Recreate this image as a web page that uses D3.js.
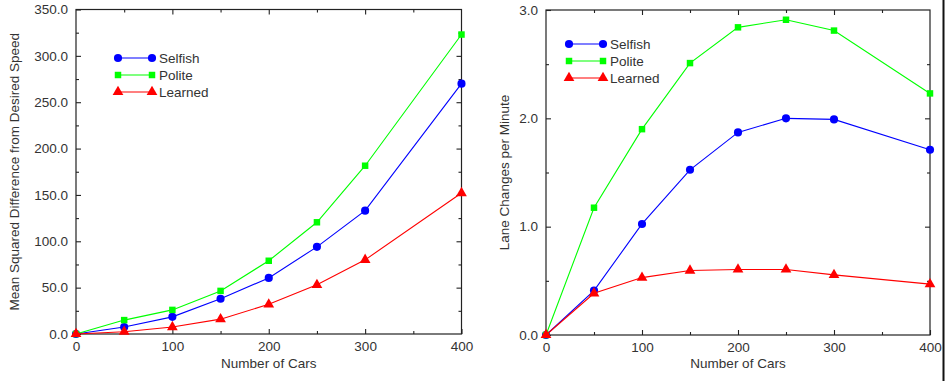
<!DOCTYPE html>
<html>
<head>
<meta charset="utf-8">
<script src="https://cdn.jsdelivr.net/npm/d3@7"></script>
<style>
  body { margin: 0; background: #fff; }
  svg text { font-family: "Liberation Sans", Arial, sans-serif; fill: #333; }
  .axis path { stroke: #222; stroke-width: 1.2; }
  .axis line { stroke: #222; stroke-width: 1.1; }
</style>
</head>
<body>
<svg id="chart" width="948" height="381"></svg>
<script>
// data
const cars = [0, 50, 100, 150, 200, 250, 300, 400];

const speedSelfish = [0, 7.5, 18.5, 38, 60.5, 94, 133, 270];
const speedPolite  = [0, 15, 26, 46.5, 79, 120.5, 181.5, 323];
const speedLearned = [0, 2.5, 7.5, 16, 32, 53, 80, 152];

const laneSelfish = [0, 0.41, 1.025, 1.525, 1.87, 2.0, 1.99, 1.71];
const lanePolite  = [0, 1.175, 1.9, 2.51, 2.84, 2.91, 2.81, 2.23];
const laneLearned = [0, 0.385, 0.53, 0.595, 0.605, 0.605, 0.555, 0.47];

const seriesNames = ['Selfish', 'Polite', 'Learned'];
const seriesColors = ['#0000ff', '#00ff00', '#ff0000'];
const seriesShapes = [d3.symbolCircle, d3.symbolSquare, d3.symbolTriangle];
const seriesSizes  = [52, 42, 50];

const xMajor = [0, 100, 200, 300, 400];
const xMinor = [50, 150, 250, 350];

const svg = d3.select('#chart');

function drawPanel(opts) {
  const g = svg.append('g');
  const x = d3.scaleLinear().domain([0, 400]).range([opts.left, opts.right]);
  const y = d3.scaleLinear().domain([0, opts.yMax]).range([opts.bottom, opts.top]);

  // frame
  g.append('rect')
    .attr('x', opts.left).attr('y', opts.top)
    .attr('width', opts.right - opts.left).attr('height', opts.bottom - opts.top)
    .attr('fill', 'none').attr('stroke', '#222').attr('stroke-width', 1.2);

  const addAxis = (axis, tx, ty) => {
    const a = g.append('g').attr('class', 'axis')
      .attr('transform', `translate(${tx},${ty})`)
      .call(axis);
    a.select('.domain').remove();
    a.selectAll('text').style('font-size', '13.5px').attr('fill', '#333');
    return a;
  };

  // bottom / top
  addAxis(d3.axisBottom(x).tickValues(xMajor).tickSize(-5).tickPadding(7)
    .tickFormat(d3.format('d')), 0, opts.bottom);
  addAxis(d3.axisBottom(x).tickValues(xMinor).tickSize(-3).tickFormat(''), 0, opts.bottom);
  addAxis(d3.axisTop(x).tickValues(xMajor.slice(1, -1)).tickSize(-5).tickFormat(''), 0, opts.top);
  addAxis(d3.axisTop(x).tickValues(xMinor).tickSize(-3).tickFormat(''), 0, opts.top);

  // left / right
  addAxis(d3.axisLeft(y).tickValues(opts.yMajor).tickSize(-5).tickPadding(8)
    .tickFormat(d3.format('.1f')), opts.left, 0);
  addAxis(d3.axisLeft(y).tickValues(opts.yMinor).tickSize(-3).tickFormat(''), opts.left, 0);
  addAxis(d3.axisRight(y).tickValues(opts.yMajor.slice(1, -1)).tickSize(-5).tickFormat(''), opts.right, 0);
  addAxis(d3.axisRight(y).tickValues(opts.yMinor).tickSize(-3).tickFormat(''), opts.right, 0);

  // lines + markers
  const line = d3.line().x(d => x(d[0])).y(d => y(d[1]));
  opts.series.forEach((vals, i) => {
    const pts = cars.map((c, j) => [c, vals[j]]);
    g.append('path')
      .attr('d', line(pts))
      .attr('fill', 'none')
      .attr('stroke', seriesColors[i])
      .attr('stroke-width', 1.1);
    g.selectAll(null)
      .data(pts)
      .enter().append('path')
        .attr('transform', d => `translate(${x(d[0])},${y(d[1])})`)
        .attr('d', d3.symbol(seriesShapes[i], seriesSizes[i]))
        .attr('fill', seriesColors[i]);
  });

  // legend
  seriesNames.forEach((name, i) => {
    const ly = opts.legY + i * 17;
    g.append('line')
      .attr('x1', opts.legX).attr('x2', opts.legX + 34)
      .attr('y1', ly).attr('y2', ly)
      .attr('stroke', seriesColors[i]).attr('stroke-width', 1.1);
    [opts.legX, opts.legX + 34].forEach(px => {
      g.append('path')
        .attr('transform', `translate(${px},${ly})`)
        .attr('d', d3.symbol(seriesShapes[i], seriesSizes[i]))
        .attr('fill', seriesColors[i]);
    });
    g.append('text')
      .attr('x', opts.legX + 41).attr('y', ly)
      .attr('dy', '0.35em')
      .style('font-size', '13.5px')
      .text(name);
  });

  // axis titles
  g.append('text')
    .attr('x', (opts.left + opts.right) / 2).attr('y', 368)
    .attr('text-anchor', 'middle')
    .style('font-size', '13.5px')
    .text('Number of Cars');

  g.append('text')
    .attr('transform', `translate(${opts.yTitleX},${(opts.top + opts.bottom) / 2}) rotate(-90)`)
    .attr('text-anchor', 'middle')
    .attr('dy', '0.35em')
    .style('font-size', '13.5px')
    .text(opts.yTitle);
}

drawPanel({
  left: 76, right: 461.5, top: 9.5, bottom: 334,
  yMax: 350,
  yMajor: [0, 50, 100, 150, 200, 250, 300, 350],
  yMinor: [25, 75, 125, 175, 225, 275, 325],
  series: [speedSelfish, speedPolite, speedLearned],
  legX: 118, legY: 58,
  yTitleX: 14,
  yTitle: 'Mean Squared Difference from Desired Speed'
});

drawPanel({
  left: 546, right: 930, top: 10, bottom: 335,
  yMax: 3,
  yMajor: [0, 1, 2, 3],
  yMinor: [0.5, 1.5, 2.5],
  series: [laneSelfish, lanePolite, laneLearned],
  legX: 569, legY: 44,
  yTitleX: 504,
  yTitle: 'Lane Changes per Minute'
});

// dark edge at the right of the figure
svg.append('line')
  .attr('x1', 943.5).attr('x2', 943.5)
  .attr('y1', 0).attr('y2', 381)
  .attr('stroke', '#111').attr('stroke-width', 2);
</script>
</body>
</html>
